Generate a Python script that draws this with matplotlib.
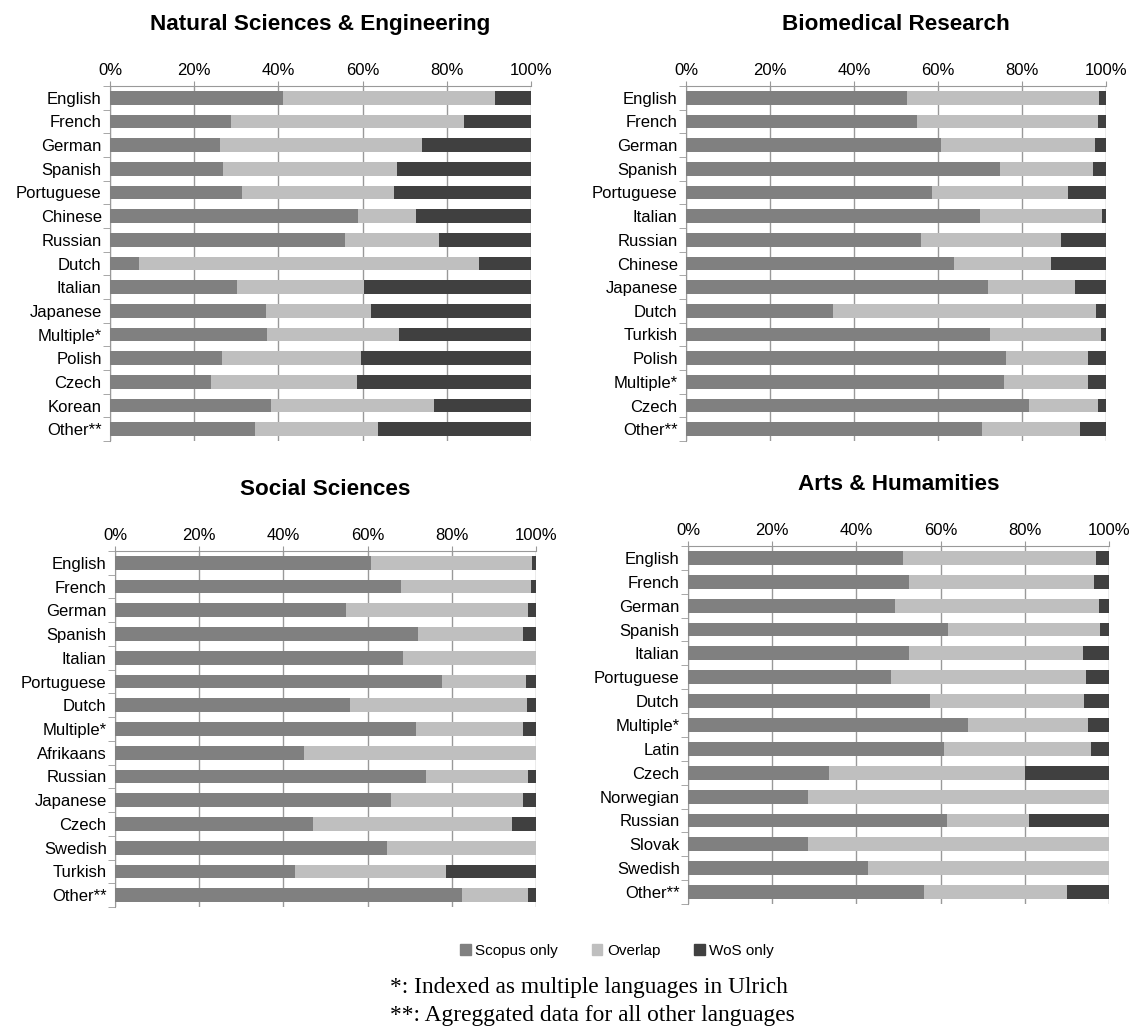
import matplotlib.pyplot as plt
import numpy as np

# --- data (percent of journals) ---
nse_langs = ['English', 'French', 'German', 'Spanish', 'Portuguese', 'Chinese', 'Russian', 'Dutch',
             'Italian', 'Japanese', 'Multiple*', 'Polish', 'Czech', 'Korean', 'Other**']
nse_scopus = [41.1, 28.8, 26.2, 26.9, 31.4, 58.9, 55.8, 6.9, 30.1, 37.1, 37.3, 26.7, 24.1, 38.3, 34.4]
nse_overlap = [50.4, 55.4, 48.0, 41.3, 36.0, 13.8, 22.4, 80.7, 30.3, 24.9, 31.4, 32.9, 34.5, 38.6, 29.2]
nse_wos = [8.5, 15.8, 25.8, 31.8, 32.6, 27.3, 21.8, 12.4, 39.6, 38.0, 31.3, 40.4, 41.4, 23.1, 36.4]

bio_langs = ['English', 'French', 'German', 'Spanish', 'Portuguese', 'Italian', 'Russian', 'Chinese',
             'Japanese', 'Dutch', 'Turkish', 'Polish', 'Multiple*', 'Czech', 'Other**']
bio_scopus = [52.6, 55.1, 60.6, 74.7, 58.5, 70.1, 55.9, 63.8, 71.8, 35.1, 72.3, 76.3, 75.7, 81.6, 70.4]
bio_overlap = [45.7, 42.9, 36.7, 22.1, 32.5, 29.0, 33.4, 23.2, 20.7, 62.5, 26.4, 19.3, 20.0, 16.4, 23.3]
bio_wos = [1.7, 2.0, 2.7, 3.2, 9.0, 0.9, 10.7, 13.0, 7.5, 2.4, 1.3, 4.4, 4.3, 2.0, 6.3]

soc_langs = ['English', 'French', 'German', 'Spanish', 'Italian', 'Portuguese', 'Dutch', 'Multiple*',
             'Afrikaans', 'Russian', 'Japanese', 'Czech', 'Swedish', 'Turkish', 'Other**']
soc_scopus = [60.7, 68.0, 54.9, 72.0, 68.3, 77.6, 55.9, 71.4, 44.9, 73.9, 65.6, 47.0, 64.7, 42.8, 82.4]
soc_overlap = [38.4, 30.9, 43.2, 24.9, 31.7, 20.1, 42.0, 25.5, 55.1, 24.1, 31.3, 47.3, 35.3, 35.9, 15.7]
soc_wos = [0.9, 1.1, 1.9, 3.1, 0.0, 2.3, 2.1, 3.1, 0.0, 2.0, 3.1, 5.7, 0.0, 21.3, 1.9]

art_langs = ['English', 'French', 'German', 'Spanish', 'Italian', 'Portuguese', 'Dutch', 'Multiple*',
             'Latin', 'Czech', 'Norwegian', 'Russian', 'Slovak', 'Swedish', 'Other**']
art_scopus = [51.1, 52.6, 49.2, 61.8, 52.4, 48.1, 57.6, 66.6, 60.9, 33.4, 28.6, 61.6, 28.6, 42.8, 56.1]
art_overlap = [45.9, 43.9, 48.5, 36.1, 41.5, 46.5, 36.5, 28.5, 34.9, 46.6, 71.4, 19.4, 71.4, 57.2, 34.0]
art_wos = [3.0, 3.5, 2.3, 2.1, 6.1, 5.4, 5.9, 4.9, 4.2, 20.0, 0.0, 19.0, 0.0, 0.0, 9.9]

series_names = ['Scopus only', 'Overlap', 'WoS only']
colors = ['#808080', '#bfbfbf', '#404040']

plt.rcParams['font.family'] = ['Liberation Sans', 'DejaVu Sans']

W, H = 1133, 1029
fig = plt.figure(figsize=(W / 100, H / 100), dpi=100)


def panel(px_left, px_top, px_right, px_bottom, title, langs, s, o, w):
    ax = fig.add_axes([px_left / W, 1 - px_bottom / H, (px_right - px_left) / W, (px_bottom - px_top) / H])
    y = np.arange(len(langs))
    s = np.array(s)
    o = np.array(o)
    w = np.array(w)
    h = 0.58
    ax.barh(y, s, height=h, color=colors[0], zorder=3)
    ax.barh(y, o, left=s, height=h, color=colors[1], zorder=3)
    ax.barh(y, w, left=s + o, height=h, color=colors[2], zorder=3)
    ax.set_xlim(0, 100)
    ax.set_ylim(len(langs) - 0.5, -0.5)
    ax.set_xticks([0, 20, 40, 60, 80, 100])
    ax.set_xticklabels(['0%', '20%', '40%', '60%', '80%', '100%'], fontsize=12)
    ax.xaxis.tick_top()
    ax.tick_params(axis='x', length=3.5, color='#999999', pad=2)
    ax.set_yticks(y)
    ax.set_yticklabels(langs, fontsize=12)
    ax.set_yticks(np.arange(len(langs) + 1) - 0.5, minor=True)
    ax.tick_params(axis='y', which='major', length=0, pad=6)
    ax.tick_params(axis='y', which='minor', length=5, color='#999999')
    ax.grid(axis='x', color='#999999', linewidth=1, zorder=0)
    for sp in ['right', 'bottom']:
        ax.spines[sp].set_visible(False)
    for sp in ['left', 'top']:
        ax.spines[sp].set_color('#999999')
    ax.set_title(title, fontsize=16.2, fontweight='bold', pad=40)
    return ax


panel(110, 86, 531, 441, 'Natural Sciences & Engineering', nse_langs, nse_scopus, nse_overlap, nse_wos)
panel(686, 86, 1106, 441, 'Biomedical Research', bio_langs, bio_scopus, bio_overlap, bio_wos)
panel(115, 551, 536, 907, 'Social Sciences', soc_langs, soc_scopus, soc_overlap, soc_wos)
panel(688, 546, 1109, 904, 'Arts & Humamities', art_langs, art_scopus, art_overlap, art_wos)

handles = [plt.Rectangle((0, 0), 1, 1, color=c) for c in colors]
fig.legend(handles, series_names, loc='center', bbox_to_anchor=(617 / W, 1 - 951 / H), ncol=3,
           frameon=False, fontsize=11, handlelength=0.7, handleheight=0.7, handletextpad=0.3, columnspacing=2.2)

fig.text(589 / W, 1 - 988 / H, '*: Indexed as multiple languages in Ulrich', ha='center', va='center',
         fontsize=16.8, family=['Liberation Serif', 'DejaVu Serif'])
fig.text(592 / W, 1 - 1015 / H, '**: Agreggated data for all other languages', ha='center', va='center',
         fontsize=16.8, family=['Liberation Serif', 'DejaVu Serif'])

fig.savefig('out.png', dpi=100)
